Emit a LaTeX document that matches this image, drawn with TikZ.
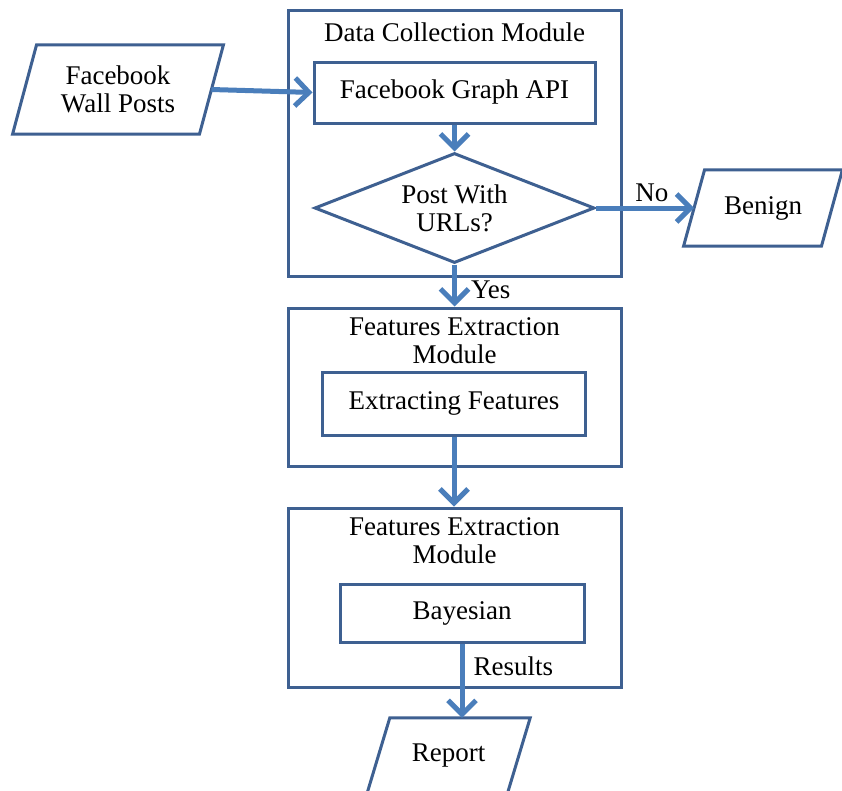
\documentclass[tikz,border=0pt]{standalone}
\usepackage{fontspec}
\setmainfont{Liberation Serif}
\usetikzlibrary{shapes.geometric,arrows.meta}
\definecolor{boxblue}{RGB}{62,96,145}
\definecolor{arrowblue}{RGB}{74,126,187}
\tikzset{
  txt/.style={font=\fontsize{27}{28}\selectfont, text=black, align=center},
  module/.style={draw=boxblue, line width=3pt, rectangle, inner sep=0pt},
  stepbox/.style={draw=boxblue, line width=3pt, rectangle, inner sep=0pt, txt},
  decision/.style={draw=boxblue, line width=3pt, diamond, aspect=2.5, inner sep=0pt, txt},
  iotext/.style={rectangle, inner sep=0pt, txt},
  iodraw/.style={draw=boxblue, line width=3pt, line join=miter},
  flow/.style={draw=arrowblue, line width=5pt, -{Straight Barb[length=14pt,width=28pt]}},
  lbl/.style={txt, inner sep=0pt}
}
% parallelogram outline around a rectangular node: #1 node name, #2 horizontal slant
\newcommand{\iooutline}[2]{%
  \draw[iodraw] ([xshift=-#2/2]#1.south west) -- ([xshift=#2/2]#1.north west)
    -- ([xshift=#2/2]#1.north east) -- ([xshift=-#2/2]#1.south east) -- cycle;}
\begin{document}
\begin{tikzpicture}[x=1pt,y=-1pt]
\useasboundingbox (0,0) rectangle (842,790);
\fill[white] (0,0) rectangle (842,790);
\clip (0,0) rectangle (842,790);
% Data collection module
\node[module, minimum width=333pt, minimum height=266pt] (box1) at (454.5,143) {};
\node[lbl] (t1) at (454.5,32) {Data Collection Module};
\node[stepbox, minimum width=281pt, minimum height=61pt] (api) at (454.5,92.5) {Facebook Graph API};
\node[decision, minimum width=280pt, minimum height=110pt] (dia) at (454.5,208) {Post With\\URLs?};
% input / output parallelograms
\node[iotext, minimum width=186.5pt, minimum height=89pt] (wall) at (118,89.5) {Facebook\\Wall Posts};
\iooutline{wall}{24pt}
\node[iotext, minimum width=137.5pt, minimum height=76pt] (benign) at (763,208) {Benign};
\iooutline{benign}{21pt}
% Features extraction module
\node[module, minimum width=333pt, minimum height=158pt] (box2) at (454.5,387) {};
\node[lbl] (t2) at (454.5,341) {Features Extraction\\Module};
\node[stepbox, minimum width=263pt, minimum height=63pt] (ext) at (454,403.5) {Extracting Features};
% second module
\node[module, minimum width=333pt, minimum height=179pt] (box3) at (454.5,597.5) {};
\node[lbl] (t3) at (454.5,541) {Features Extraction\\Module};
\node[stepbox, minimum width=244pt, minimum height=58pt] (bay) at (462,613.5) {Bayesian};
% report
\node[iotext, minimum width=140pt, minimum height=76pt] (report) at (448.5,756) {Report};
\iooutline{report}{23pt}
% connectors
\draw[flow] (wall.east) -- (api.west);
\draw[flow] (api.south) -- (dia.north);
\draw[flow] (dia.east) -- node[lbl, above=4pt, pos=0.57] (no) {No} (benign.west);
\draw[flow] (dia.south) -- node[lbl, right=14pt, pos=0.6] (yes) {Yes} (box2.north);
\draw[flow] (ext.south) -- (ext.south |- box3.north);
\draw[flow] (bay.south) -- node[lbl, right=9pt, pos=0.3] (res) {Results} (bay.south |- report.north);
\end{tikzpicture}
\end{document}
